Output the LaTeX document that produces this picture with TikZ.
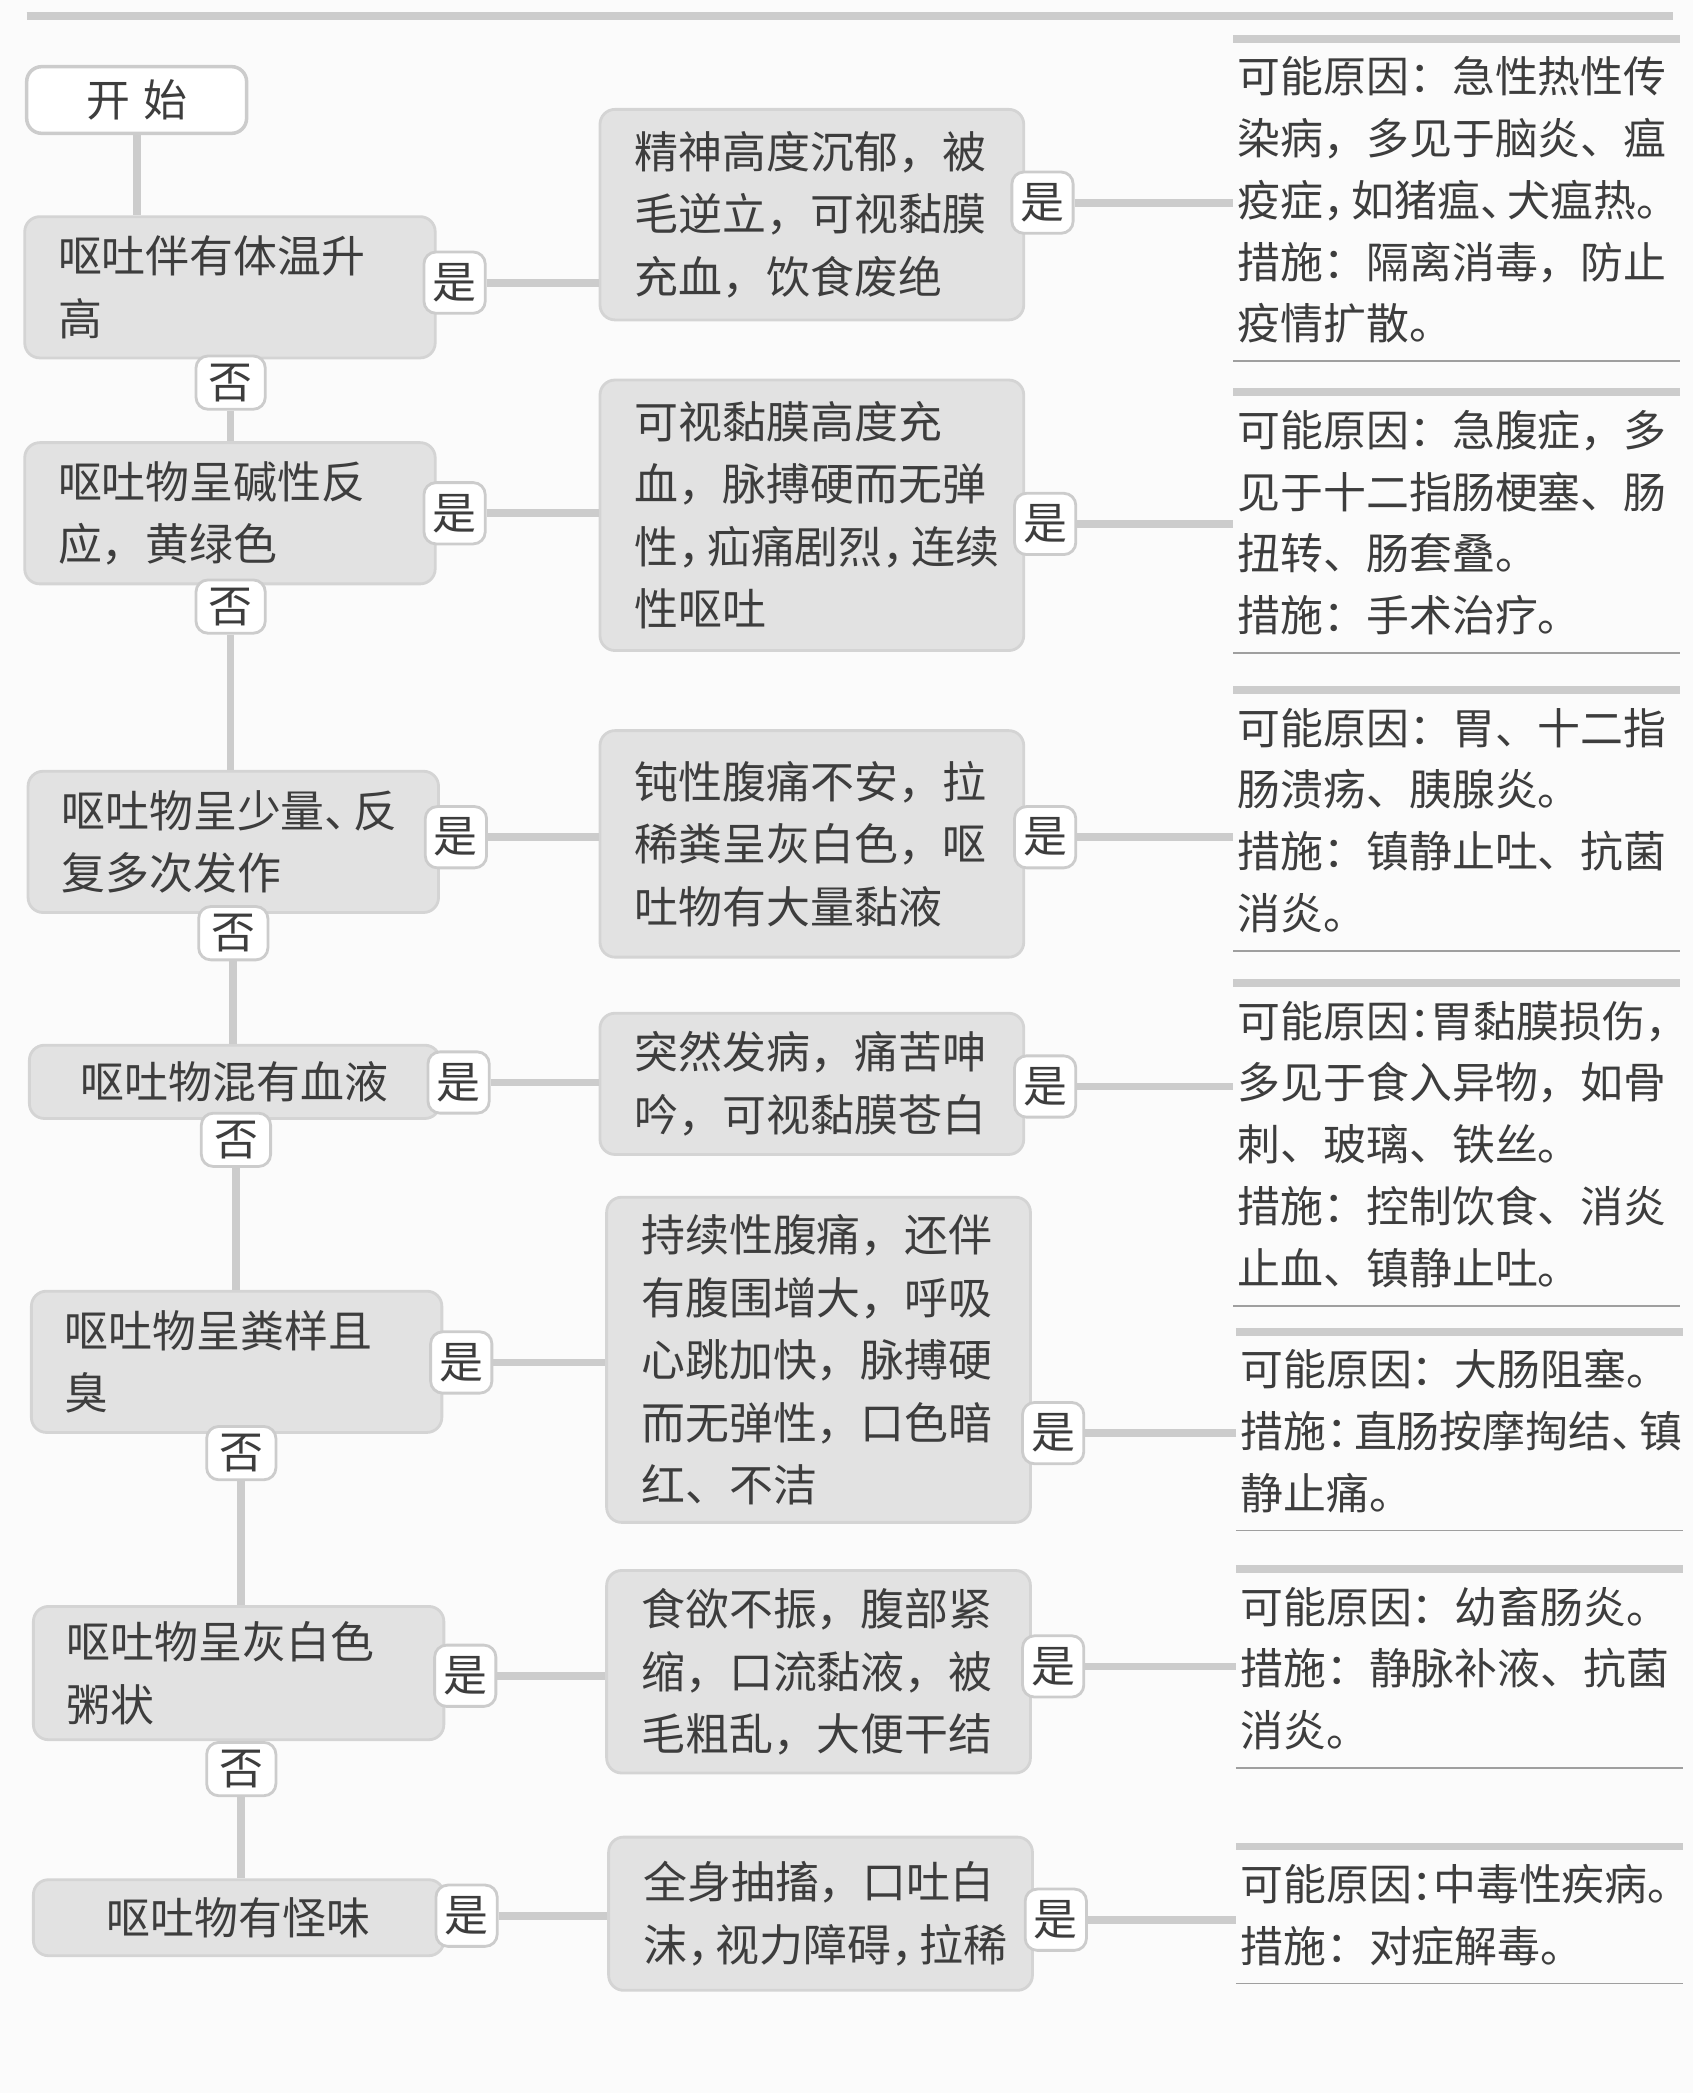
\documentclass[tikz,border=0pt]{standalone}
\usepackage{fontspec}
\setmainfont{Noto Sans CJK SC}
\definecolor{paper}{gray}{0.985}
\definecolor{boxfill}{gray}{0.885}
\definecolor{boxline}{gray}{0.83}
\definecolor{tagline}{gray}{0.80}
\definecolor{linkgray}{gray}{0.80}
\definecolor{inkgray}{gray}{0.24}
\newcommand{\sq}{\kern-.35em}
\newcommand{\sqq}{\kern-.5em}
\begin{document}
\begin{tikzpicture}[x=0.013331cm, y=-0.013331cm,
  every node/.style={text=inkgray},
  askbox/.style={rectangle, rounded corners=0.15cm, fill=boxfill, draw=boxline, line width=0.8pt,
    minimum width=4.106cm, minimum height=1.413cm, text width=3.44cm, inner xsep=0.333cm,
    align=left, font=\fontsize{12.5}{17.8}\selectfont},
  signbox/.style={askbox, minimum width=4.239cm, text width=3.546cm, inner xsep=0.3466cm},
  startbox/.style={rectangle, rounded corners=0.15cm, fill=white, draw=tagline, line width=1pt,
    minimum width=2.2cm, minimum height=0.667cm, font=\fontsize{12.5}{14}\selectfont},
  yesbox/.style={rectangle, rounded corners=0.12cm, fill=white, draw=tagline, line width=0.8pt,
    minimum width=0.613cm, minimum height=0.613cm, inner sep=0pt, font=\fontsize{12.5}{14}\selectfont},
  nobox/.style={yesbox, minimum width=0.693cm, minimum height=0.533cm},
  causebox/.style={anchor=west, text width=4.38cm, inner xsep=0.04cm, inner ysep=0.17cm,
    align=left, font=\fontsize{12.2}{17.6}\selectfont},
  linkline/.style={draw=linkgray, line width=2.2pt},
  headbar/.style={draw=linkgray, line width=2.2pt},
  footrule/.style={draw=gray!75, line width=0.5pt}]

  \useasboundingbox (0,0) rectangle (1270,1570);
  \fill[paper] (0,0) rectangle (1270,1570);
  \draw[headbar] (20,12) -- (1255,12);

  % left column: questions
  \node[startbox] (start) at (102.5,75) {开\hspace{0.3em}始};
  \node[askbox] (B1) at (172.5,215.5) {呕吐伴有体温升\\高};
  \node[askbox] (B2) at (172.5,385) {呕吐物呈碱性反\\应，黄绿色};
  \node[askbox] (B3) at (175,631.5) {呕吐物呈少量、\sq 反\\复多次发作};
  \node[askbox, minimum height=0.733cm, align=center] (B4) at (176,811.5) {呕吐物混有血液};
  \node[askbox] (B5) at (177.5,1021.5) {呕吐物呈粪样且\\臭};
  \node[askbox, minimum height=1.333cm] (B6) at (179,1255) {呕吐物呈灰白色\\粥状};
  \node[askbox, minimum height=0.76cm, align=center] (B7) at (179,1438.5) {呕吐物有怪味};

  % middle column: signs
  \node[signbox, minimum height=2.106cm] (M1) at (609,161) {精神高度沉郁，被\\毛逆立，可视黏膜\\充血，饮食废绝};
  \node[signbox, minimum height=2.706cm] (M2) at (609,386.5) {可视黏膜高度充\\血，脉搏硬而无弹\\性，\sq 疝痛剧烈，\sq 连续\\性呕吐};
  \node[signbox, minimum height=2.266cm] (M3) at (609,633) {钝性腹痛不安，拉\\稀粪呈灰白色，呕\\吐物有大量黏液};
  \node[signbox, minimum height=1.413cm] (M4) at (609,813) {突然发病，痛苦呻\\吟，可视黏膜苍白};
  \node[signbox, minimum height=3.253cm] (M5) at (614,1020) {持续性腹痛，还伴\\有腹围增大，呼吸\\心跳加快，脉搏硬\\而无弹性，口色暗\\红、不洁};
  \node[signbox, minimum height=2.026cm] (M6) at (614,1254) {食欲不振，腹部紧\\缩，口流黏液，被\\毛粗乱，大便干结};
  \node[signbox, minimum height=1.533cm] (M7) at (615.5,1435.5) {全身抽搐，口吐白\\沫，\sq 视力障碍，\sq 拉稀};

  % right column: causes and measures
  \node[causebox] (R1) at (925,150) {可能原因：急性热性传\\染病，多见于脑炎、瘟\\疫症，\sq 如猪瘟、\sq 犬瘟热。\\措施：隔离消毒，防止\\疫情扩散。};
  \node[causebox] (R2) at (925,392) {可能原因：急腹症，多\\见于十二指肠梗塞、肠\\扭转、肠套叠。\\措施：手术治疗。};
  \node[causebox] (R3) at (925,615.5) {可能原因：胃、十二指\\肠溃疡、胰腺炎。\\措施：镇静止吐、抗菌\\消炎。};
  \node[causebox] (R4) at (925,858.5) {可能原因：\sqq 胃黏膜损伤，\\多见于食入异物，如骨\\刺、玻璃、铁丝。\\措施：控制饮食、消炎\\止血、镇静止吐。};
  \node[causebox] (R5) at (927,1073.5) {可能原因：大肠阻塞。\\措施：\sq 直肠按摩掏结、\sq 镇\\静止痛。};
  \node[causebox] (R6) at (927,1251.5) {可能原因：幼畜肠炎。\\措施：静脉补液、抗菌\\消炎。};
  \node[causebox] (R7) at (927,1436.5) {可能原因：\sqq 中毒性疾病。\\措施：对症解毒。};

  % yes / no tags
  \foreach \n/\x/\y in {1/341/212, 2/341/385, 3/342/628, 4/344/812, 5/346/1022, 6/349/1257, 7/350/1437}
    \node[yesbox] (ya\n) at (\x,\y) {是};
  \foreach \n/\x/\y in {1/782/152, 2/784/393, 3/784/628, 4/784/815, 5/790/1075, 6/790/1250, 7/792/1440}
    \node[yesbox] (yb\n) at (\x,\y) {是};
  \foreach \n/\x/\y in {1/173/287, 2/173/455, 3/175/700, 4/177/855, 5/181/1090, 6/181/1327}
    \node[nobox] (no\n) at (\x,\y) {否};

  % connectors
  \draw[linkline] (start.south) -- (start |- B1.north);
  \foreach \n/\m in {1/2, 2/3, 3/4, 4/5, 5/6, 6/7}
    \draw[linkline] (no\n.south) -- (no\n |- B\m.north);
  \foreach \n in {1,...,7} {
    \draw[linkline] (ya\n.east) -- (ya\n -| M\n.west);
    \draw[linkline] (yb\n.east) -- (yb\n -| R\n.west);
    \draw[headbar] (R\n.north west) -- (R\n.north east);
    \draw[footrule] (R\n.south west) -- (R\n.south east);
  }
\end{tikzpicture}
\end{document}
